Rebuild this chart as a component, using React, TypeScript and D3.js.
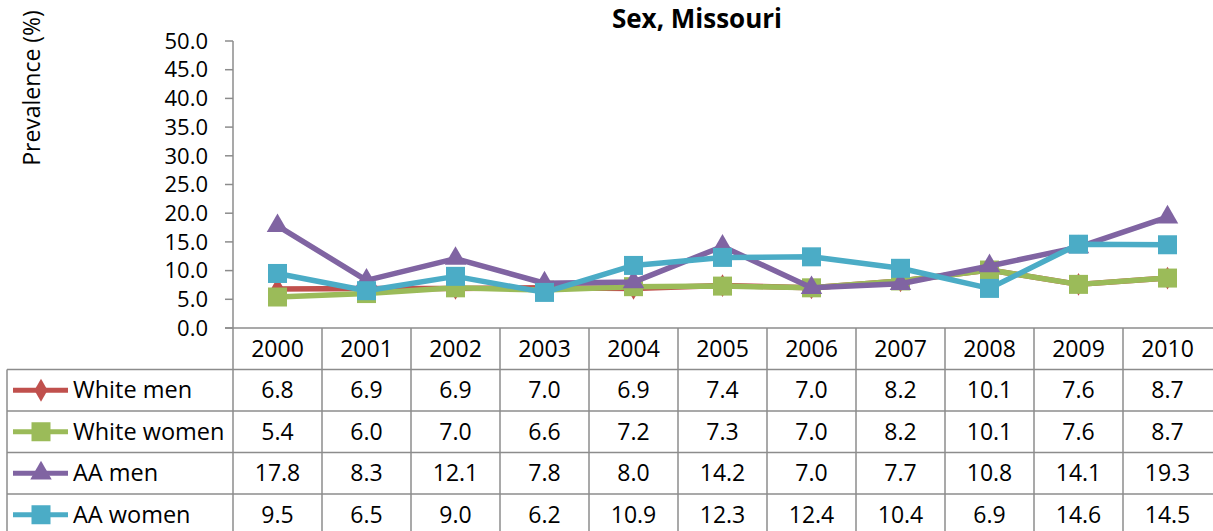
import * as d3 from "d3";

const years = ["2000", "2001", "2002", "2003", "2004", "2005", "2006", "2007", "2008", "2009", "2010"];
const whiteMen = [6.8, 6.9, 6.9, 7.0, 6.9, 7.4, 7.0, 8.2, 10.1, 7.6, 8.7];
const whiteWomen = [5.4, 6.0, 7.0, 6.6, 7.2, 7.3, 7.0, 8.2, 10.1, 7.6, 8.7];
const aaMen = [17.8, 8.3, 12.1, 7.8, 8.0, 14.2, 7.0, 7.7, 10.8, 14.1, 19.3];
const aaWomen = [9.5, 6.5, 9.0, 6.2, 10.9, 12.3, 12.4, 10.4, 6.9, 14.6, 14.5];
const yTicks = [0, 5, 10, 15, 20, 25, 30, 35, 40, 45, 50];

const series = [
  { name: "White men", values: whiteMen, color: "#C0504D", shape: "diamond" },
  { name: "White women", values: whiteWomen, color: "#9BBB59", shape: "square" },
  { name: "AA men", values: aaMen, color: "#8064A2", shape: "triangle" },
  { name: "AA women", values: aaWomen, color: "#4BACC6", shape: "square" },
];

const font = "'Open Sans', sans-serif";
const gridColor = "#8c8c8c";

function marker(shape: string, x: number, y: number, color: string, key?: string) {
  if (shape === "square") {
    return <rect key={key} x={x - 9.5} y={y - 9.5} width={19} height={19} fill={color} />;
  }
  const sym = d3.symbol().type(shape === "triangle" ? d3.symbolTriangle : d3.symbolDiamond)
    .size(shape === "triangle" ? 200 : 150);
  return <path key={key} d={sym() as string} transform={`translate(${x},${y})`} fill={color} />;
}

export default function App() {
  const width = 1213;
  const height = 531;
  const left = 233;
  const right = 1212;
  const top = 41;
  const bottom = 328;
  const rowH = 41.5;
  const tableLeft = 7;

  const x = d3.scaleBand().domain(years).range([left, right]);
  const y = d3.scaleLinear().domain([0, 50]).range([bottom, top]);
  const line = d3.line<number>()
    .x((_, i) => (x(years[i]) as number) + x.bandwidth() / 2)
    .y((d) => y(d));

  const rowTop = (r: number) => bottom + rowH * r;

  return (
    <svg width={width} height={height} style={{ position: "absolute", left: 0, top: 0, background: "#fff" }}>
      <text x={697} y={28} textAnchor="middle" fontFamily={font} fontWeight="bold" fontSize={26}>
        Sex, Missouri
      </text>
      <text transform="translate(40,88) rotate(-90)" textAnchor="middle" fontFamily={font} fontSize={23}>
        Prevalence (%)
      </text>

      {/* y axis */}
      <line x1={left} x2={left} y1={top} y2={bottom} stroke={gridColor} strokeWidth={1.5} />
      {yTicks.map((t) => (
        <g key={t}>
          <line x1={left - 8} x2={left} y1={y(t)} y2={y(t)} stroke={gridColor} strokeWidth={1.5} />
          <text x={208} y={y(t)} dy="0.35em" textAnchor="end" fontFamily={font} fontSize={22}>
            {t.toFixed(1)}
          </text>
        </g>
      ))}

      {/* table grid */}
      <line x1={left - 8} x2={width} y1={bottom} y2={bottom} stroke={gridColor} strokeWidth={1.5} />
      {[1, 2, 3, 4].map((r) => (
        <line key={r} x1={tableLeft} x2={width} y1={rowTop(r)} y2={rowTop(r)} stroke={gridColor} strokeWidth={1.5} />
      ))}
      <line x1={tableLeft} x2={tableLeft} y1={rowTop(1)} y2={height} stroke={gridColor} strokeWidth={1.5} />
      {years.map((yr) => (
        <line key={yr} x1={x(yr) as number} x2={x(yr) as number} y1={bottom} y2={height} stroke={gridColor} strokeWidth={1.5} />
      ))}

      {/* header */}
      {years.map((yr) => (
        <text key={yr} x={(x(yr) as number) + x.bandwidth() / 2} y={rowTop(0) + rowH / 2} dy="0.35em"
          textAnchor="middle" fontFamily={font} fontSize={23}>
          {yr}
        </text>
      ))}

      {/* rows */}
      {series.map((s, r) => {
        const cy = rowTop(r + 1) + rowH / 2;
        return (
          <g key={s.name}>
            <line x1={13} x2={68} y1={cy} y2={cy} stroke={s.color} strokeWidth={5} />
            {marker(s.shape, 41, cy, s.color)}
            <text x={73} y={cy} dy="0.35em" fontFamily={font} fontSize={23.5}>{s.name}</text>
            {s.values.map((v, i) => (
              <text key={i} x={(x(years[i]) as number) + x.bandwidth() / 2} y={cy} dy="0.35em"
                textAnchor="middle" fontFamily={font} fontSize={23}>
                {v.toFixed(1)}
              </text>
            ))}
          </g>
        );
      })}

      {/* lines */}
      {series.map((s) => (
        <g key={s.name}>
          <path d={line(s.values) as string} fill="none" stroke={s.color} strokeWidth={5.5} strokeLinejoin="round" />
          {s.values.map((v, i) =>
            marker(s.shape, (x(years[i]) as number) + x.bandwidth() / 2, y(v), s.color, String(i))
          )}
        </g>
      ))}
    </svg>
  );
}
